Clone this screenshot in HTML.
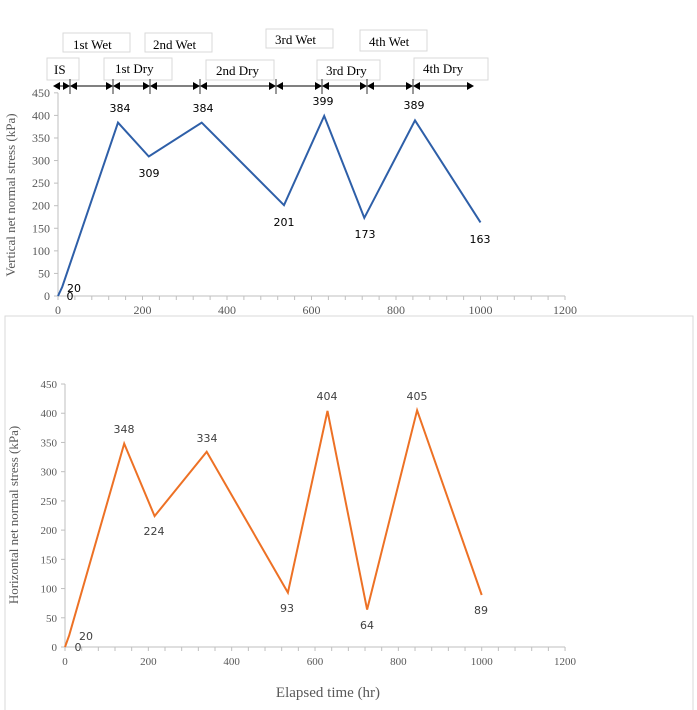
<!DOCTYPE html>
<html><head><meta charset="utf-8"><style>
html,body{margin:0;padding:0;background:#fff;width:697px;height:710px;overflow:hidden}
svg{display:block}
.t{font-family:"Liberation Serif",serif;fill:#595959}
.d{font-family:"DejaVu Sans","Liberation Sans",sans-serif;fill:#404040}
.b{font-family:"Liberation Serif",serif;fill:#000;font-size:13px}
</style></head><body>
<svg id="s" width="697" height="710" xmlns="http://www.w3.org/2000/svg">
<rect x="5" y="316" width="688" height="400" fill="none" stroke="#d9d9d9"/>
<!-- boxes -->
<g fill="#fff" stroke="#d9d9d9">
<rect x="47" y="58" width="32" height="22"/>
<rect x="63" y="33" width="67" height="19"/>
<rect x="145" y="33" width="67" height="19"/>
<rect x="266" y="29" width="67" height="19"/>
<rect x="104" y="58" width="68" height="22"/>
<rect x="206" y="60" width="68" height="20"/>
<rect x="317" y="60" width="63" height="20"/>
<rect x="360" y="30" width="67" height="21"/>
<rect x="414" y="58" width="74" height="22"/>
</g>
<text class="b" x="54" y="74">IS</text>
<text class="b" x="73" y="49">1st Wet</text>
<text class="b" x="153" y="49">2nd Wet</text>
<text class="b" x="275" y="44">3rd Wet</text>
<text class="b" x="115" y="73">1st Dry</text>
<text class="b" x="216" y="75">2nd Dry</text>
<text class="b" x="326" y="75">3rd Dry</text>
<text class="b" x="369" y="46">4th Wet</text>
<text class="b" x="423" y="73">4th Dry</text>
<g id="arr"></g>
<g id="g"></g>
<polyline fill="none" stroke="#2e5fa8" stroke-width="2" points="58,296 62.2,287 118,122.6 148.8,156.5 201.7,122.6 284,205.2 324.2,115.9 364.3,217.9 415,120.4 480.5,222.4"/>
<polyline fill="none" stroke="#ed7125" stroke-width="2" points="65,647 69.2,635.3 124.2,443.6 154.6,516.1 206.7,451.8 287.9,592.6 327.5,410.9 367.1,609.6 417.1,410.3 481.7,595"/>
<g class="d" font-size="11" text-anchor="middle" fill="#000">
<text x="74" y="292" style="fill:#000">20</text><text x="70" y="300" style="fill:#000">0</text>
<text x="120" y="112" style="fill:#000">384</text><text x="149" y="177" style="fill:#000">309</text>
<text x="203" y="112" style="fill:#000">384</text><text x="284" y="226" style="fill:#000">201</text>
<text x="323" y="105" style="fill:#000">399</text><text x="365" y="238" style="fill:#000">173</text>
<text x="414" y="109" style="fill:#000">389</text><text x="480" y="243" style="fill:#000">163</text>
</g>
<g class="d" font-size="11" text-anchor="middle">
<text x="86" y="640">20</text><text x="78" y="651">0</text>
<text x="124" y="433">348</text><text x="154" y="535">224</text>
<text x="207" y="442">334</text><text x="287" y="612">93</text>
<text x="327" y="400">404</text><text x="367" y="629">64</text>
<text x="417" y="400">405</text><text x="481" y="614">89</text>
</g>
<text class="t" font-size="13" transform="translate(15,195) rotate(-90)" text-anchor="middle">Vertical net normal stress (kPa)</text>
<text class="t" font-size="13" transform="translate(18,515) rotate(-90)" text-anchor="middle">Horizontal net normal stress (kPa)</text>
<text class="t" font-size="15" x="328" y="697" text-anchor="middle">Elapsed time (hr)</text>
</svg>
<script>
var ns="http://www.w3.org/2000/svg",g=document.getElementById("g");
function el(t,a,txt){var e=document.createElementNS(ns,t);for(var k in a)e.setAttribute(k,a[k]);if(txt!=null)e.textContent=txt;g.appendChild(e);return e;}
function chart(x0,y0,xs,ys,fs){
 el("line",{x1:x0,y1:y0,x2:x0+1200*xs,y2:y0,stroke:"#bfbfbf"});
 el("line",{x1:x0,y1:y0,x2:x0,y2:y0-450*ys,stroke:"#bfbfbf"});
 for(var t=0;t<=1200;t+=40){var x=x0+t*xs;el("line",{x1:x,y1:y0,x2:x,y2:y0+4,stroke:"#bfbfbf"});}
 for(var t=0;t<=1200;t+=200){el("text",{x:x0+t*xs,y:y0+18,"text-anchor":"middle","class":"t","font-size":fs},t);}
 for(var v=0;v<=450;v+=50){var y=y0-v*ys;el("line",{x1:x0-4,y1:y,x2:x0,y2:y,stroke:"#bfbfbf"});el("text",{x:x0-8,y:y+4,"text-anchor":"end","class":"t","font-size":fs},v);}
}
chart(58,296,0.4225,0.4515,12);
chart(65,647,0.4167,0.5844,11);
var a=document.getElementById("arr");g=a;
var pts=[53,70,113,150,200,276,322,367,413];
var y=86;
for(var i=0;i<pts.length;i++){var s=pts[i],e=(i+1<pts.length?pts[i+1]:474);
 el("line",{x1:s+1,y1:y,x2:e-1,y2:y,stroke:"#000","stroke-width":1});
 el("polygon",{points:(s)+","+y+" "+(s+7)+","+(y-4)+" "+(s+7)+","+(y+4),fill:"#000"});
 el("polygon",{points:(e)+","+y+" "+(e-7)+","+(y-4)+" "+(e-7)+","+(y+4),fill:"#000"});
 if(i>0)el("line",{x1:s,y1:y-7,x2:s,y2:y+8,stroke:"#333"});
}
</script>
</body></html>
